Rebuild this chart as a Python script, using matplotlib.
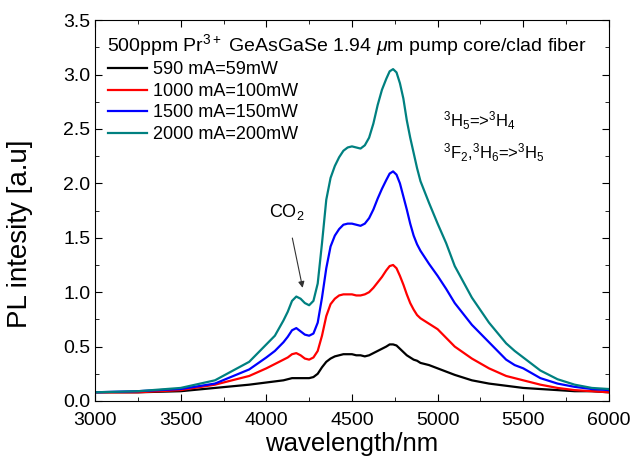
import matplotlib
matplotlib.use("Agg")
import matplotlib.pyplot as plt
from matplotlib.ticker import MultipleLocator

plt.rcParams['font.family'] = ['Liberation Sans', 'DejaVu Sans']
plt.rcParams['mathtext.fontset'] = 'custom'
plt.rcParams['mathtext.rm'] = 'Liberation Sans'
plt.rcParams['mathtext.it'] = 'Liberation Sans:italic'

# wavelength grid (nm)
wavelength = [3000, 3250, 3500, 3700, 3900, 4000, 4050, 4100,
              4125, 4150, 4175, 4200, 4225, 4250, 4275, 4300,
              4325, 4350, 4375, 4400, 4425, 4450, 4475, 4500,
              4525, 4550, 4575, 4600, 4625, 4650, 4675, 4700,
              4720, 4740, 4760, 4780, 4800, 4820, 4840, 4860,
              4880, 4900, 4950, 5000, 5050, 5100, 5200, 5300,
              5400, 5450, 5500, 5600, 5700, 5800, 5900, 6000]

pl_590 = [0.08, 0.08, 0.09, 0.12, 0.15, 0.17, 0.18, 0.19,
          0.20, 0.21, 0.21, 0.21, 0.21, 0.21, 0.22, 0.25,
          0.31, 0.36, 0.39, 0.41, 0.42, 0.43, 0.43, 0.43,
          0.42, 0.42, 0.41, 0.42, 0.44, 0.46, 0.48, 0.50,
          0.52, 0.52, 0.51, 0.48, 0.45, 0.42, 0.40, 0.38,
          0.37, 0.35, 0.33, 0.30, 0.27, 0.24, 0.19, 0.16,
          0.14, 0.13, 0.12, 0.11, 0.10, 0.09, 0.09, 0.08]
pl_1000 = [0.08, 0.08, 0.10, 0.15, 0.23, 0.30, 0.34, 0.38,
           0.40, 0.43, 0.44, 0.42, 0.39, 0.38, 0.40, 0.46,
           0.60, 0.78, 0.89, 0.94, 0.97, 0.98, 0.98, 0.98,
           0.97, 0.97, 0.98, 1.00, 1.04, 1.09, 1.14, 1.20,
           1.24, 1.25, 1.22, 1.15, 1.07, 0.98, 0.90, 0.84,
           0.79, 0.76, 0.71, 0.66, 0.58, 0.50, 0.39, 0.30,
           0.23, 0.21, 0.19, 0.15, 0.12, 0.10, 0.09, 0.08]
pl_1500 = [0.08, 0.09, 0.11, 0.16, 0.29, 0.40, 0.46, 0.54,
           0.59, 0.65, 0.67, 0.64, 0.61, 0.60, 0.62, 0.72,
           0.95, 1.22, 1.42, 1.52, 1.58, 1.62, 1.63, 1.63,
           1.62, 1.61, 1.63, 1.68, 1.76, 1.86, 1.95, 2.03,
           2.09, 2.11, 2.08, 2.00, 1.88, 1.76, 1.63, 1.52,
           1.44, 1.38, 1.26, 1.15, 1.03, 0.90, 0.70, 0.54,
           0.38, 0.33, 0.30, 0.21, 0.16, 0.13, 0.11, 0.10]
pl_2000 = [0.08, 0.09, 0.12, 0.19, 0.36, 0.52, 0.60, 0.74,
           0.82, 0.92, 0.96, 0.94, 0.90, 0.88, 0.92, 1.08,
           1.45, 1.85, 2.05, 2.16, 2.24, 2.30, 2.33, 2.34,
           2.33, 2.32, 2.35, 2.42, 2.55, 2.72, 2.86, 2.96,
           3.03, 3.05, 3.02, 2.92, 2.78, 2.58, 2.42, 2.28,
           2.14, 2.02, 1.82, 1.63, 1.45, 1.24, 0.95, 0.72,
           0.53, 0.46, 0.40, 0.28, 0.20, 0.15, 0.12, 0.11]

labels = ['590 mA=59mW', '1000 mA=100mW', '1500 mA=150mW', '2000 mA=200mW']
colors = ['black', '#ff0000', '#0000ff', '#008080']

fig = plt.figure(figsize=(6.31, 4.69), dpi=100)
ax = fig.add_axes([0.1506, 0.145, 0.8144, 0.812])

for y, lab, c in zip([pl_590, pl_1000, pl_1500, pl_2000], labels, colors):
    ax.plot(wavelength, y, color=c, lw=1.6, label=lab)

ax.set_xlim(3000, 6000)
ax.set_ylim(0, 3.5)
ax.xaxis.set_major_locator(MultipleLocator(500))
ax.xaxis.set_minor_locator(MultipleLocator(250))
ax.yaxis.set_major_locator(MultipleLocator(0.5))
ax.yaxis.set_minor_locator(MultipleLocator(0.25))
ax.yaxis.set_major_formatter(plt.FormatStrFormatter('%.1f'))
ax.tick_params(which='both', direction='in', top=True, right=True, labelsize=14)
ax.tick_params(which='major', length=5)
ax.tick_params(which='minor', length=3)
ax.tick_params(axis='x', pad=8)

ax.set_xlabel('wavelength/nm', fontsize=18.5, labelpad=2)
ax.set_ylabel('PL intesity [a.u]', fontsize=20)
ax.yaxis.set_label_coords(-0.12, 0.44)

ax.text(0.024, 0.935, r'500ppm Pr$^{3+}$ GeAsGaSe 1.94 $\mu$m pump core/clad fiber',
        transform=ax.transAxes, fontsize=14, va='center', ha='left')
ax.legend(loc='upper left', bbox_to_anchor=(0.0, 0.925), frameon=False,
          fontsize=13, handlelength=2.2, handletextpad=0.3, labelspacing=0.25,
          borderaxespad=0.3)

ax.text(5030, 2.58, r'$^3$H$_5$=>$^3$H$_4$', fontsize=12, va='center')
ax.text(5030, 2.28, r'$^3$F$_2$,$^3$H$_6$=>$^3$H$_5$', fontsize=12, va='center')

ax.annotate('CO$_2$', xy=(4212, 1.04), xytext=(4120, 1.74), fontsize=13,
            ha='center', va='center',
            arrowprops=dict(arrowstyle='-|>', color='#333333', lw=0.8,
                            shrinkA=10, shrinkB=0, mutation_scale=9))

fig.savefig('out.png', dpi=100)
